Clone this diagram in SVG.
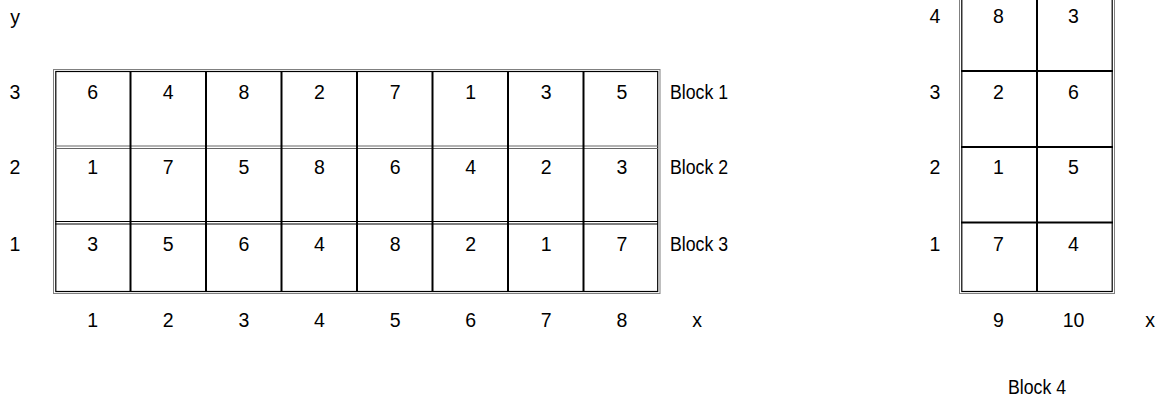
<svg xmlns="http://www.w3.org/2000/svg" width="1173" height="403" viewBox="0 0 1173 403">
<style>
text{font-family:"Liberation Sans",Arial,sans-serif;font-size:19.5px;fill:#000}
.c{text-anchor:middle}
.o{fill:none;stroke:#808080;stroke-width:1}
.i{fill:none;stroke:#000;stroke-width:1.2}
.g{stroke:#000;stroke-width:2}
.d{stroke:#666;stroke-width:1.2}
</style>
<rect width="1173" height="403" fill="#fff"/>
<g id="axes-left">
<text class="c" x="15" y="24">y</text>
<text class="c" x="15" y="99">3</text>
<text class="c" x="15" y="174">2</text>
<text class="c" x="15" y="251">1</text>
<text class="c" x="92.7" y="327">1</text>
<text class="c" x="168.3" y="327">2</text>
<text class="c" x="243.9" y="327">3</text>
<text class="c" x="319.5" y="327">4</text>
<text class="c" x="395.1" y="327">5</text>
<text class="c" x="470.7" y="327">6</text>
<text class="c" x="546.3" y="327">7</text>
<text class="c" x="621.9" y="327">8</text>
<text class="c" x="697" y="327">x</text>
</g>
<g id="grid-left">
<rect class="o" x="53.5" y="69.5" width="606.5" height="224"/>
<rect class="i" x="55.8" y="71.5" width="601.9" height="220"/>
<line class="d" x1="55" y1="146" x2="658" y2="146"/>
<line class="d" x1="55" y1="148.5" x2="658" y2="148.5"/>
<line class="i" x1="55" y1="221.5" x2="658" y2="221.5"/>
<line class="i" x1="55" y1="224" x2="658" y2="224"/>
<g class="g">
<line x1="130.5" y1="71" x2="130.5" y2="292"/>
<line x1="206" y1="71" x2="206" y2="292"/>
<line x1="281.5" y1="71" x2="281.5" y2="292"/>
<line x1="357" y1="71" x2="357" y2="292"/>
<line x1="432.5" y1="71" x2="432.5" y2="292"/>
<line x1="508" y1="71" x2="508" y2="292"/>
<line x1="583.5" y1="71" x2="583.5" y2="292"/>
</g>
</g>
<g id="block1">
<text class="c" x="92.7" y="99">6</text>
<text class="c" x="168.3" y="99">4</text>
<text class="c" x="243.9" y="99">8</text>
<text class="c" x="319.5" y="99">2</text>
<text class="c" x="395.1" y="99">7</text>
<text class="c" x="470.7" y="99">1</text>
<text class="c" x="546.3" y="99">3</text>
<text class="c" x="621.9" y="99">5</text>
<text x="670" y="99" textLength="58" lengthAdjust="spacingAndGlyphs">Block 1</text>
</g>
<g id="block2">
<text class="c" x="92.7" y="174">1</text>
<text class="c" x="168.3" y="174">7</text>
<text class="c" x="243.9" y="174">5</text>
<text class="c" x="319.5" y="174">8</text>
<text class="c" x="395.1" y="174">6</text>
<text class="c" x="470.7" y="174">4</text>
<text class="c" x="546.3" y="174">2</text>
<text class="c" x="621.9" y="174">3</text>
<text x="670" y="174" textLength="58" lengthAdjust="spacingAndGlyphs">Block 2</text>
</g>
<g id="block3">
<text class="c" x="92.7" y="251">3</text>
<text class="c" x="168.3" y="251">5</text>
<text class="c" x="243.9" y="251">6</text>
<text class="c" x="319.5" y="251">4</text>
<text class="c" x="395.1" y="251">8</text>
<text class="c" x="470.7" y="251">2</text>
<text class="c" x="546.3" y="251">1</text>
<text class="c" x="621.9" y="251">7</text>
<text x="670" y="251" textLength="58" lengthAdjust="spacingAndGlyphs">Block 3</text>
</g>
<g id="block4">
<rect class="o" x="959.5" y="-10" width="155" height="303.5"/>
<rect class="i" x="961.8" y="-10" width="150.4" height="301.5"/>
<g class="g">
<line x1="1037" y1="-10" x2="1037" y2="292"/>
<line x1="961" y1="71" x2="1113" y2="71"/>
<line x1="961" y1="147" x2="1113" y2="147"/>
<line x1="961" y1="222.5" x2="1113" y2="222.5"/>
</g>
<text class="c" x="998.5" y="23">8</text>
<text class="c" x="1073.5" y="23">3</text>
<text class="c" x="998.5" y="99">2</text>
<text class="c" x="1073.5" y="99">6</text>
<text class="c" x="998.5" y="174">1</text>
<text class="c" x="1073.5" y="174">5</text>
<text class="c" x="998.5" y="251">7</text>
<text class="c" x="1073.5" y="251">4</text>
<text class="c" x="935" y="23">4</text>
<text class="c" x="935" y="99">3</text>
<text class="c" x="935" y="174">2</text>
<text class="c" x="935" y="251">1</text>
<text class="c" x="998.5" y="327">9</text>
<text class="c" x="1073.5" y="327">10</text>
<text class="c" x="1150" y="327">x</text>
<text x="1008" y="394" textLength="58" lengthAdjust="spacingAndGlyphs">Block 4</text>
</g>
</svg>
